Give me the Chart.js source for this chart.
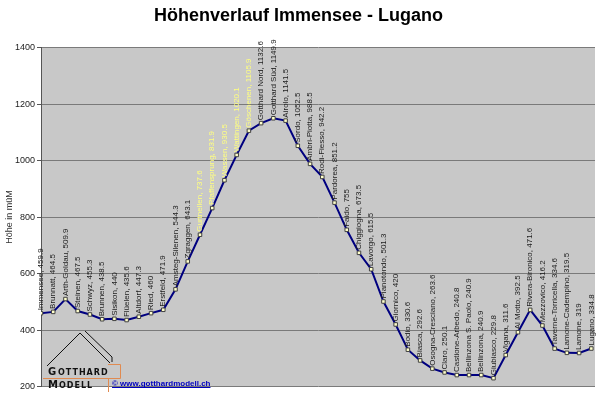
<!DOCTYPE html>
<html>
<head>
<meta charset="utf-8">
<script src="https://cdn.jsdelivr.net/npm/chart.js@4"></script>
<style>
  html, body { margin: 0; padding: 0; background: #fff; }
  #wrap { width: 600px; height: 394px; }
</style>
</head>
<body>
<div id="wrap"><canvas id="myChart" width="600" height="394"></canvas></div>
<script>
// stations along the line, north to south
const stations = [
    'Immensee', 'Brunnatt', 'Arth-Goldau', 'Steinen', 'Schwyz', 'Brunnen', 'Sisikon',
    'Flüelen', 'Altdorf', 'Ried', 'Erstfeld', 'Amsteg-Silenen', 'Zgraggen',
    'Gurtnellen', 'Pfaffensprung', 'Wassen', 'Wattingen', 'Göschenen',
    'Gotthard Nord', 'Gotthard Süd', 'Airolo', 'Sordo', 'Ambri-Piotta', 'Rodi-Fiesso',
    'Pardorea', 'Faido', 'Chiggiogna', 'Lavorgo', 'Pianotondo', 'Giornico', 'Bodio',
    'Biasca', 'Osogna-Cresciano', 'Claro', 'Castione-Arbedo', 'Bellinzona S. Paolo',
    'Bellinzona', 'Giubiasco', 'Vigana', 'Al Motto', 'Rivera-Bironico', 'Mezzovico',
    'Taverne-Torricella', 'Lamone-Cadempino', 'Lamone', 'Lugano'
];
// height in metres above sea level
const heights = [
    459.9, 464.5, 509.9, 467.5, 455.3, 438.5, 440,
    435.6, 447.3, 460, 471.9, 544.3, 643.1,
    737.6, 831.9, 930.5, 1020.1, 1105.9,
    1132.6, 1149.9, 1141.5, 1052.5, 988.5, 942.2,
    851.2, 755, 673.5, 615.5, 501.3, 420, 330.6,
    292.6, 263.6, 250.1, 240.8, 240.9,
    240.9, 229.8, 311.6, 392.5, 471.6, 416.2,
    334.6, 319.5, 319, 334.8
];
// labels printed in yellow (north ramp)
const yellowLabels = ['Gurtnellen', 'Pfaffensprung', 'Wassen', 'Wattingen', 'Göschenen'];
const yTicks = [200, 400, 600, 800, 1000, 1200, 1400];

const font = 'Liberation Sans, Arial, sans-serif';

const plotBackground = {
    id: 'plotBackground',
    beforeDraw(chart) {
        const { ctx, chartArea: a } = chart;
        ctx.save();
        ctx.fillStyle = '#c8c8c8';
        ctx.fillRect(a.left, a.top, a.right - a.left, a.bottom - a.top);
        ctx.restore();
    }
};

const stationLabels = {
    id: 'stationLabels',
    afterDatasetsDraw(chart) {
        const ctx = chart.ctx;
        const meta = chart.getDatasetMeta(0);
        ctx.save();
        ctx.font = '8px ' + font;
        ctx.textAlign = 'left';
        ctx.textBaseline = 'middle';
        meta.data.forEach(function (pt, i) {
            ctx.save();
            ctx.translate(pt.x, pt.y - 3);
            ctx.rotate(-Math.PI / 2);
            ctx.fillStyle = yellowLabels.includes(stations[i]) ? '#ffff80' : '#202020';
            ctx.fillText(stations[i] + ', ' + heights[i], 0, 0);
            ctx.restore();
        });
        ctx.restore();
    }
};

// the little "Gotthard Modell" logo in the lower left corner
const logo = {
    id: 'logo',
    afterDraw(chart) {
        const ctx = chart.ctx;
        ctx.save();
        ctx.strokeStyle = '#111';
        ctx.lineWidth = 1;
        ctx.beginPath();
        ctx.moveTo(47, 366); ctx.lineTo(80, 333); ctx.lineTo(110, 363);
        ctx.moveTo(85, 331); ctx.lineTo(112, 357); ctx.lineTo(112, 362);
        ctx.stroke();

        ctx.strokeStyle = '#e08a50';
        ctx.beginPath();
        ctx.moveTo(108, 364.5); ctx.lineTo(120.5, 364.5); ctx.lineTo(120.5, 378.5);
        ctx.lineTo(43, 378.5);
        ctx.moveTo(108.5, 378.5); ctx.lineTo(108.5, 392);
        ctx.stroke();

        ctx.fillStyle = '#111';
        ctx.textBaseline = 'alphabetic';
        ctx.letterSpacing = '1px';
        ctx.font = 'bold 10px DejaVu Sans, sans-serif';
        ctx.fillText('G', 48, 375);
        ctx.fillText('M', 48, 388);
        ctx.font = 'bold 8px DejaVu Sans, sans-serif';
        ctx.fillText('OTTHARD', 58, 375);
        ctx.fillText('ODELL', 59, 388);
        ctx.letterSpacing = '0px';

        ctx.fillStyle = '#0000c0';
        ctx.font = 'bold 8px ' + font;
        const txt = '© www.gotthardmodell.ch';
        ctx.fillText(txt, 112, 386);
        const w = ctx.measureText(txt).width;
        ctx.fillRect(112, 387, w, 1);
        ctx.restore();
    }
};

const ctx = document.getElementById('myChart').getContext('2d');
const myChart = new Chart(ctx, {
    type: 'line',
    data: {
        datasets: [{
            data: heights.map(function (h, i) { return { x: i, y: h }; }),
            borderColor: '#000080',
            borderWidth: 2,
            tension: 0,
            pointStyle: 'rect',
            pointRadius: 2.5,
            pointBackgroundColor: '#ffffcc',
            pointBorderColor: '#404040',
            pointBorderWidth: 1
        }]
    },
    options: {
        responsive: false,
        animation: false,
        layout: { padding: { left: 0, right: 3, bottom: 6, top: 0 } },
        scales: {
            x: {
                type: 'linear',
                display: false,
                min: 0,
                max: 45.3
            },
            y: {
                min: 200,
                max: 1400,
                afterBuildTicks: function (scale) {
                    scale.ticks = yTicks.map(function (v) { return { value: v }; });
                },
                afterFit: function (scale) { scale.width = 41; },
                grid: {
                    color: '#7a7a7a',
                    lineWidth: 1,
                    tickLength: 4,
                    tickColor: '#555'
                },
                border: { display: true, color: '#555' },
                ticks: {
                    color: '#222',
                    padding: 2,
                    font: { family: font, size: 9 },
                    callback: function (val) { return String(val); }
                },
                title: {
                    display: true,
                    text: 'Höhe in müM',
                    color: '#333',
                    font: { family: font, size: 9 },
                    padding: { top: 4, bottom: 0 }
                }
            }
        },
        plugins: {
            legend: { display: false },
            tooltip: { enabled: false },
            title: {
                display: true,
                text: 'Höhenverlauf Immensee - Lugano',
                color: '#000',
                font: { family: font, size: 18, weight: 'bold' },
                padding: { top: 5, bottom: 21 }
            }
        }
    },
    plugins: [plotBackground, stationLabels, logo]
});
</script>
</body>
</html>
